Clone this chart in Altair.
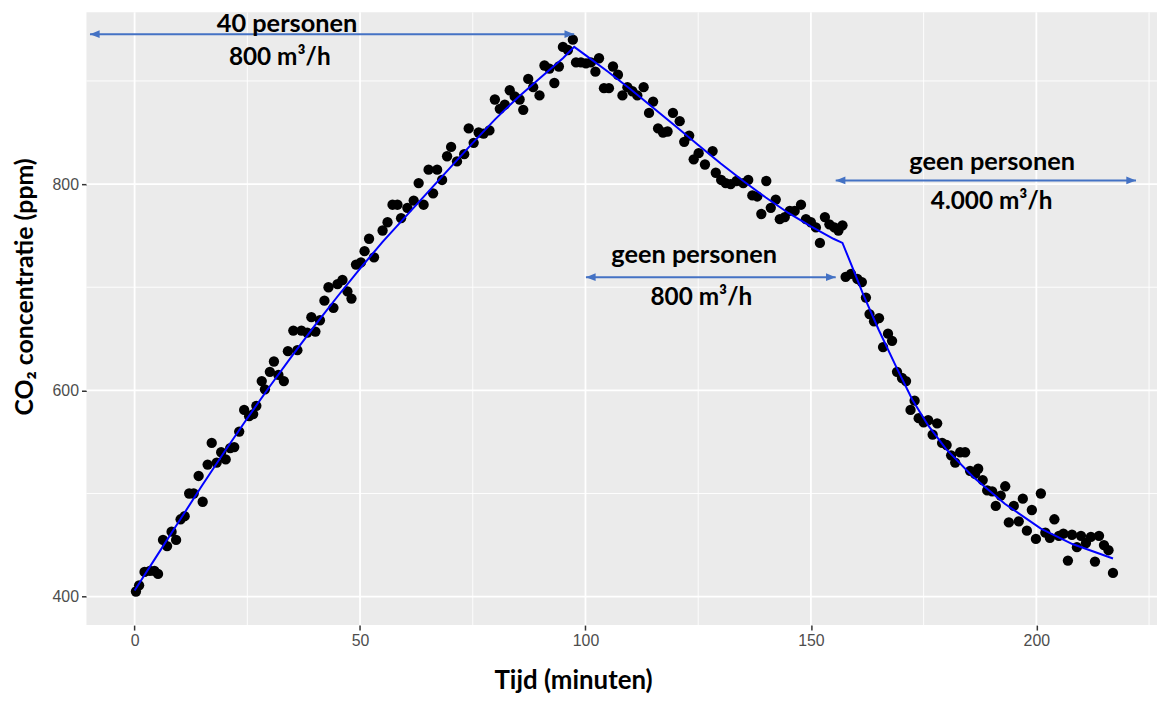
import altair as alt
import pandas as pd

# ---- measured points: time (minutes) and CO2 (ppm) ----
minutes = [
    0.3, 1.0, 2.2, 3.4, 4.4, 5.2, 6.3, 7.2, 8.2, 9.2, 10.2, 11.1, 12.1, 13.1, 14.2, 15.1,
    16.2, 17.1, 18.2, 19.2, 20.2, 21.2, 22.1, 23.2, 24.3, 25.4, 26.3, 27.0, 28.2, 28.9,
    30.0, 30.9, 31.9, 33.1, 34.0, 35.2, 36.1, 37.0, 38.3, 39.2, 40.1, 41.1, 42.1, 43.0,
    44.1, 45.0, 46.1, 47.2, 48.1, 49.1, 50.2, 51.0, 52.0, 53.1, 55.0, 56.1, 57.2, 58.3,
    59.1, 60.5, 61.9, 63.0, 64.1, 65.2, 66.2, 67.1, 68.2, 69.3, 70.2, 71.5, 73.1, 74.1,
    75.2, 76.3, 77.4, 78.7, 79.9, 81.0, 82.1, 83.2, 84.3, 85.4, 86.2, 87.3, 88.4, 89.8,
    90.9, 92.0, 93.1, 94.1, 95.0, 96.1, 97.2,
    97.9, 99.0, 100.1, 101.2, 102.2, 103.0, 104.1, 105.2, 106.1, 107.2, 108.2, 109.3,
    110.4, 111.5, 112.9, 114.1, 115.0, 116.1, 117.2, 118.2, 119.4, 120.9, 121.9, 123.0,
    124.0, 125.1, 126.5, 128.2, 128.9, 130.1, 131.1, 132.2, 133.5, 135.0, 136.1, 137.0,
    138.1, 139.0, 140.1, 141.1, 142.2, 143.1, 144.2, 145.3, 146.4, 147.8, 148.9, 150.0,
    151.1, 152.0, 153.1, 154.1, 155.2, 156.1, 157.0,
    157.7, 158.9, 160.3, 161.3, 162.2, 163.0, 164.0, 165.1, 166.0, 167.1, 168.0, 169.1,
    170.2, 171.1, 172.1, 173.0, 173.9, 175.0, 176.0, 177.0, 178.0, 179.1, 180.1, 181.1,
    182.0, 183.1, 184.2, 185.3, 186.4, 187.1, 188.1, 189.1, 190.2, 191.0, 192.1, 193.1,
    193.9, 195.0, 196.1, 197.0, 197.9, 199.0, 199.9, 201.0, 202.0, 203.0, 204.0, 205.0,
    206.0, 207.0, 207.9, 209.0, 209.9, 211.0, 212.1, 213.0, 213.9, 215.0, 216.0, 217.0,
]
co2 = [
    405, 411, 424, 425, 425, 422, 455, 449, 463, 455, 475, 478, 500, 500, 517, 492,
    528, 549, 530, 540, 533, 544, 545, 560, 581, 575, 577, 585, 609, 601,
    618, 628, 615, 609, 638, 658, 639, 658, 656, 671, 657, 668, 687, 700,
    680, 703, 707, 696, 689, 722, 724, 735, 747, 729, 755, 763, 780, 780,
    767, 777, 784, 801, 780, 814, 791, 814, 804, 827, 836, 822, 829, 854,
    840, 850, 849, 852, 882, 873, 877, 891, 885, 882, 872, 902, 894, 886,
    915, 912, 898, 914, 933, 930, 940,
    918, 918, 917, 918, 909, 922, 893, 893, 914, 906, 886, 894,
    890, 886, 894, 869, 880, 854, 850, 851, 869, 861, 841, 847,
    824, 830, 819, 832, 811, 804, 801, 800, 803, 801, 804, 789,
    788, 771, 803, 777, 785, 766, 768, 774, 774, 780, 766, 763,
    758, 743, 768, 761, 758, 755, 760,
    710, 713, 708, 705, 690, 674, 667, 670, 642, 655, 648, 618,
    612, 609, 581, 590, 573, 569, 571, 557, 568, 549, 547, 537,
    530, 540, 540, 522, 519, 524, 513, 503, 502, 488, 498, 507,
    472, 488, 473, 495, 464, 484, 456, 500, 462, 457, 475, 459,
    461, 435, 460, 448, 459, 452, 458, 434, 459, 450, 445, 423,
]

# ---- fitted model curve (blue line) ----
fit_minutes = [0, 5, 10, 15, 20, 25, 30, 35, 40, 45, 50, 55, 60, 65, 70, 75, 80, 85, 90, 95,
               97.5, 100, 105, 110, 115, 120, 125, 130, 135, 140, 145, 150, 155, 157,
               159.5, 161.5, 165, 169, 172.5, 176, 180, 186, 193, 201, 208, 217]
fit_co2 = [406, 440, 474, 508, 541, 573, 604, 634, 663, 691, 718, 744, 768, 792, 816, 840,
           863, 884, 903, 922, 933, 925, 909, 892, 874, 856, 838, 820, 803, 787, 772, 759,
           747, 743, 716, 694, 659, 622, 591, 566, 543, 516, 490, 466, 451, 437]

# ---- axes ----
x_major = [0, 50, 100, 150, 200]
x_minor = [25, 75, 125, 175, 225]
y_major = [400, 600, 800]
y_minor = [500, 700, 900]

# ---- annotations ----
arrow_start = [-9.9, 100.1, 155.5]
arrow_end = [97.5, 155.5, 222.1]
arrow_level = [945.3, 709.7, 803.5]

who_text = ["40 personen", "geen personen", "geen personen"]
who_x = [33.8, 124.1, 190.2]
who_y = [947.7, 723.4, 814.1]

flow_text = ["800 m³/h", "800 m³/h", "4.000 m³/h"]
flow_x = [32.2, 125.7, 190.1]
flow_y = [915.2, 682.4, 775.5]

ARROW = "#4472C4"
W, H = 1078, 617

xscale = alt.Scale(domain=[-10.68, 226.76], nice=False, zero=False)
yscale = alt.Scale(domain=[372.4, 966.5], nice=False, zero=False)

xaxis = alt.Axis(
    values=x_major, grid=False, domain=False, format="d",
    labelFont="Liberation Sans", labelFontSize=16, labelColor="#4D4D4D", labelPadding=3,
    tickColor="#333333", tickSize=5, tickWidth=1.5,
    title="Tijd (minuten)", titleFont="Lato", titleFontWeight="bold", titleFontSize=26,
    titleColor="black", titleX=490, titleY=64, titleAlign="center", titleBaseline="alphabetic",
)
yaxis = alt.Axis(
    values=y_major, grid=False, domain=False, format="d",
    labelFont="Liberation Sans", labelFontSize=16, labelColor="#4D4D4D", labelPadding=3,
    tickColor="#333333", tickSize=5, tickWidth=1.5,
    title="CO₂ concentratie (ppm)", titleFont="Lato", titleFontWeight="bold", titleFontSize=25,
    titleColor="black", titleX=-54, titleY=276, titleAngle=270,
    titleAlign="center", titleBaseline="alphabetic",
)

X = alt.X("x:Q", scale=xscale, axis=xaxis)
Y = alt.Y("y:Q", scale=yscale, axis=yaxis)

pts = pd.DataFrame({"x": minutes, "y": co2})
fit = pd.DataFrame({"x": fit_minutes, "y": fit_co2})
vmin = pd.DataFrame({"x": x_minor})
vmaj = pd.DataFrame({"x": x_major})
hmin = pd.DataFrame({"y": y_minor})
hmaj = pd.DataFrame({"y": y_major})
arrows = pd.DataFrame({"x": arrow_start, "x2": arrow_end, "y": arrow_level})
heads_r = pd.DataFrame({"x": arrow_end, "y": arrow_level})
heads_l = pd.DataFrame({"x": arrow_start, "y": arrow_level})
who = pd.DataFrame({"x": who_x, "y": who_y, "t": who_text})
flow = pd.DataFrame({"x": flow_x, "y": flow_y, "t": flow_text})

grid_minor_v = alt.Chart(vmin).mark_rule(color="white", strokeWidth=0.9).encode(x=X)
grid_major_v = alt.Chart(vmaj).mark_rule(color="white", strokeWidth=1.8).encode(x=X)
grid_minor_h = alt.Chart(hmin).mark_rule(color="white", strokeWidth=0.9).encode(y=Y)
grid_major_h = alt.Chart(hmaj).mark_rule(color="white", strokeWidth=1.8).encode(y=Y)

dots = alt.Chart(pts).mark_circle(color="black", opacity=1, size=108).encode(x=X, y=Y)
line = alt.Chart(fit).mark_line(color="#0000FF", strokeWidth=2).encode(x=X, y=Y)

shafts = alt.Chart(arrows).mark_rule(color=ARROW, strokeWidth=2).encode(x=X, x2="x2:Q", y=Y)
head_r = alt.Chart(heads_r).mark_point(
    shape="M-1,-0.4L0,0L-1,0.4Z", filled=True, color=ARROW, opacity=1, size=380
).encode(x=X, y=Y)
head_l = alt.Chart(heads_l).mark_point(
    shape="M1,-0.4L0,0L1,0.4Z", filled=True, color=ARROW, opacity=1, size=380
).encode(x=X, y=Y)

who_layer = alt.Chart(who).mark_text(
    font="Lato", fontWeight="bold", fontSize=25.5, color="black",
    align="center", baseline="alphabetic"
).encode(x=X, y=Y, text="t:N")
flow_layer = alt.Chart(flow).mark_text(
    font="Lato", fontWeight="bold", fontSize=24.5, color="black",
    align="center", baseline="alphabetic"
).encode(x=X, y=Y, text="t:N")

chart = alt.layer(
    grid_minor_v, grid_minor_h, grid_major_v, grid_major_h,
    dots, line, shafts, head_r, head_l, who_layer, flow_layer
).properties(
    width=W, height=H,
    autosize=alt.AutoSizeParams(type="none"),
    padding={"left": 79, "top": 2, "right": 0, "bottom": 70},
    background="white",
).configure_view(fill="#EBEBEB", stroke=None)

chart.save("out.html", embed_options={"renderer": "svg", "actions": False})
